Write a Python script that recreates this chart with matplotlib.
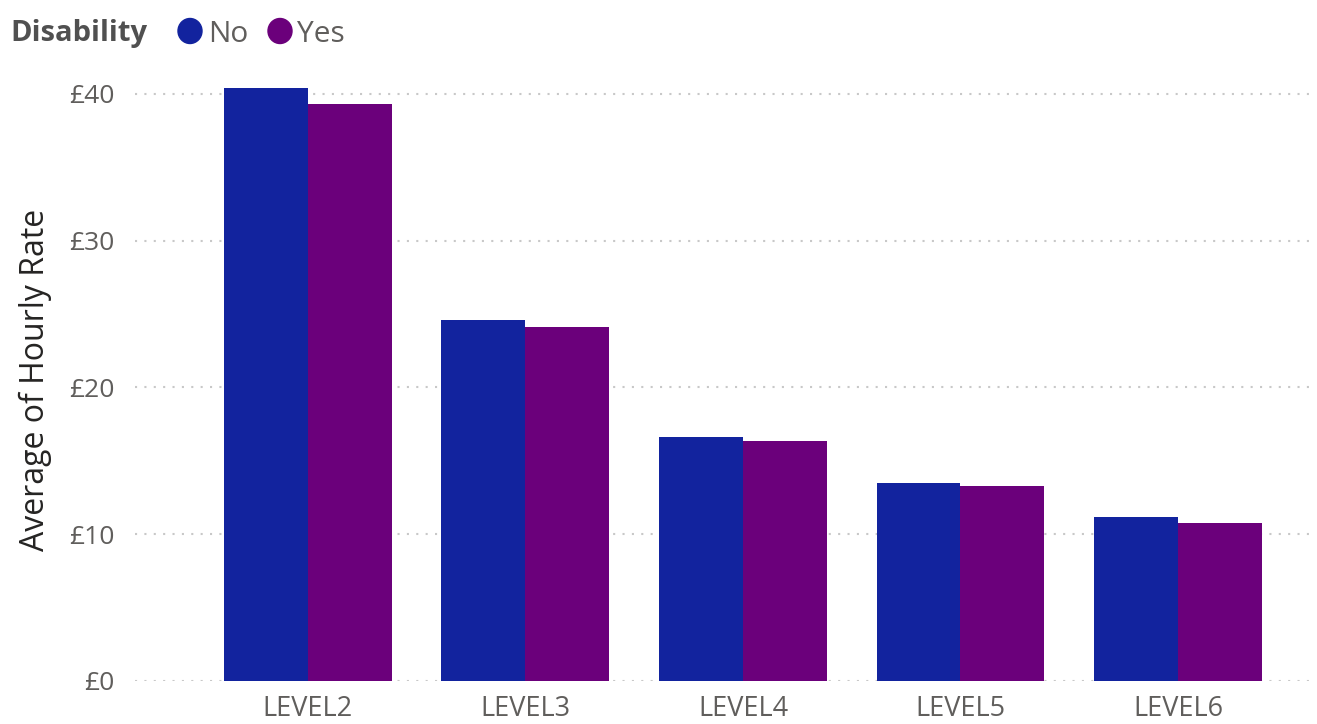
import matplotlib
matplotlib.use("Agg")
import matplotlib.pyplot as plt
import numpy as np
from matplotlib.ticker import FuncFormatter

levels = ["LEVEL2", "LEVEL3", "LEVEL4", "LEVEL5", "LEVEL6"]
rate_no = [40.4, 24.6, 16.6, 13.5, 11.2]
rate_yes = [39.3, 24.1, 16.35, 13.3, 10.75]
series_names = ["No", "Yes"]
series_colors = ["#12239E", "#6B007B"]
yticks = [0, 10, 20, 30, 40]

plt.rcParams["font.family"] = ["Open Sans", "DejaVu Sans"]

fig = plt.figure(figsize=(13.17, 7.24), dpi=100)
ax = fig.add_axes([0.1025, 0.0594, 0.8922, 0.8311])

x = np.arange(len(levels))
w = 0.386
ax.bar(x - w / 2, rate_no, width=w, color=series_colors[0], zorder=3)
ax.bar(x + w / 2, rate_yes, width=w, color=series_colors[1], zorder=3)

ax.set_xlim(-0.795, 4.607)
ax.set_ylim(0, 41)
ax.set_yticks(yticks)
ax.yaxis.set_major_formatter(FuncFormatter(lambda v, p: f"£{v:.0f}"))
ax.set_xticks(x)
ax.set_xticklabels(levels)

ax.grid(axis="y", color="#C8C8C8", linestyle=(0, (1, 3.5)), linewidth=1.5, zorder=0)
for s in ax.spines.values():
    s.set_visible(False)
ax.tick_params(axis="both", length=0, colors="#605E5C")
ax.tick_params(axis="y", pad=15, labelsize=19)
ax.tick_params(axis="x", pad=10, labelsize=19.5)

ax.set_ylabel("Average of Hourly Rate", fontsize=23, color="#252423", labelpad=12)

# Legend row at top-left
ly = 1 - 34 / 724
fig.text(10 / 1317, ly, "Disability", fontsize=21, fontweight="bold",
         color="#505050", va="center", ha="left")
for cx, tx, name, col in [(190, 208, "No", series_colors[0]),
                          (280, 297, "Yes", series_colors[1])]:
    fig.patches.append(matplotlib.patches.Ellipse(
        (cx / 1317, 1 - 31 / 724), 24 / 1317, 25 / 724,
        transform=fig.transFigure, color=col, figure=fig))
    fig.text(tx / 1317, ly, name, fontsize=21.5, color="#605E5C",
             va="center", ha="left")

fig.savefig("out.png", dpi=100)
